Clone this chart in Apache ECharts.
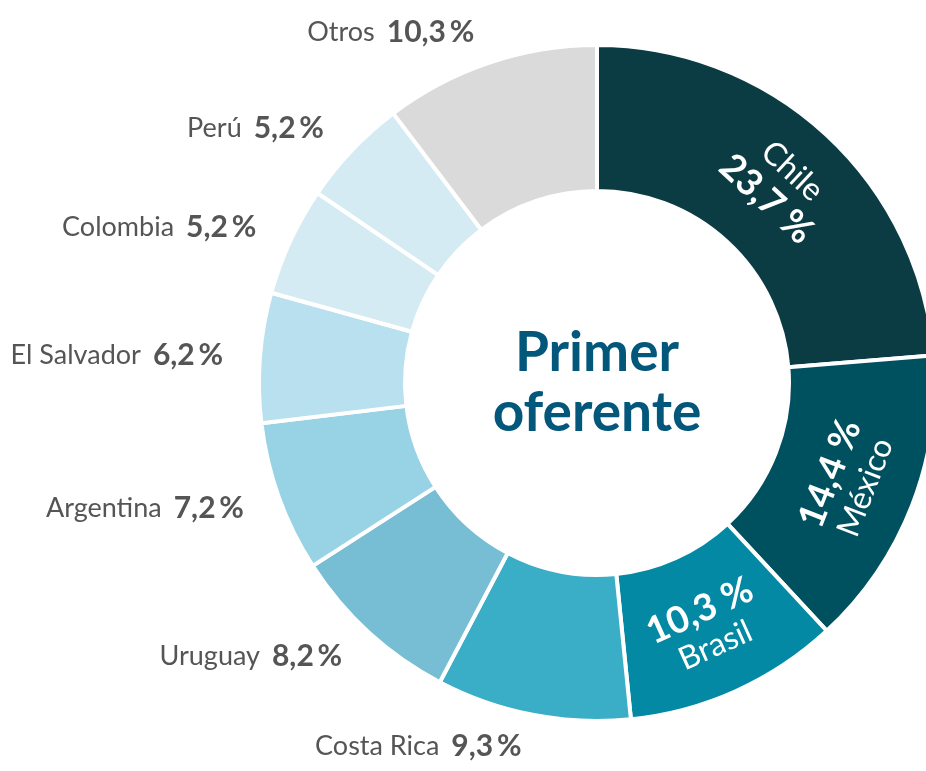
<!DOCTYPE html>
<html>
<head>
<meta charset="utf-8">
<script src="https://cdn.jsdelivr.net/npm/echarts@6/dist/echarts.min.js"></script>
<style>
  html, body { margin: 0; padding: 0; background: #fff; }
  #main { width: 926px; height: 771px; }
</style>
</head>
<body>
<div id="main"></div>
<script>
// datos
var paises = ['Chile', 'México', 'Brasil', 'Costa Rica', 'Uruguay', 'Argentina', 'El Salvador', 'Colombia', 'Perú', 'Otros'];
var porcentajes = [23.7, 14.4, 10.3, 9.3, 8.2, 7.2, 6.2, 5.2, 5.2, 10.3];
var colores = ['#0b3c43', '#00515f', '#0389a3', '#3aadc7', '#77bdd4', '#98d3e5', '#b8e0ee', '#d4ebf3', '#d4ebf3', '#dadada'];
var titulo = 'Primer\noferente';

var myChart = echarts.init(document.getElementById('main'));

function fmt(v, sep) {
	return v.toFixed(1).replace('.', ',') + sep + '%';
}

// los tres primeros llevan la etiqueta dentro del sector
var datos = paises.map(function(p, i) {
	var item = { name: p, value: porcentajes[i], itemStyle: { color: colores[i] } };
	if (i < 3) {
		var v = fmt(porcentajes[i], ' ');
		item.label = {
			position: 'inside',
			rotate: 'tangential',
			formatter: i === 0 ? '{n|{b}}\n{vi|' + v + '}' : '{vi|' + v + '}\n{n|{b}}',
			rich: {
				n: { color: '#fff', fontFamily: 'Lato', fontSize: 32, lineHeight: 36 },
				vi: { color: '#fff', fontFamily: 'Lato', fontWeight: 'bold', fontSize: 37, lineHeight: 40 }
			}
		};
	}
	return item;
});

var option = {
	animation: false,
	graphic: [{
		type: 'text',
		x: 597,
		y: 383,
		style: {
			text: titulo,
			fill: '#03577a',
			font: 'bold 55px Lato',
			lineHeight: 60,
			align: 'center',
			verticalAlign: 'middle'
		}
	}],
	series: [{
		type: 'pie',
		center: [597, 383],
		radius: [192, 338],
		startAngle: 90,
		clockwise: true,
		avoidLabelOverlap: false,
		itemStyle: { borderColor: '#fff', borderWidth: 4 },
		labelLine: { show: false, length: 32, length2: 0 },
		label: {
			position: 'outside',
			formatter: function(p) {
				return '{n|' + p.name + '}{s| }{v|' + fmt(p.value, '\u2009') + '}';
			},
			rich: {
				n: { color: '#555', fontFamily: 'Lato', fontSize: 27 },
				s: { fontSize: 27, width: 12 },
				v: { color: '#555', fontFamily: 'Lato', fontWeight: 'bold', fontSize: 30 }
			}
		},
		data: datos
	}]
};

myChart.setOption(option);
</script>
</body>
</html>
